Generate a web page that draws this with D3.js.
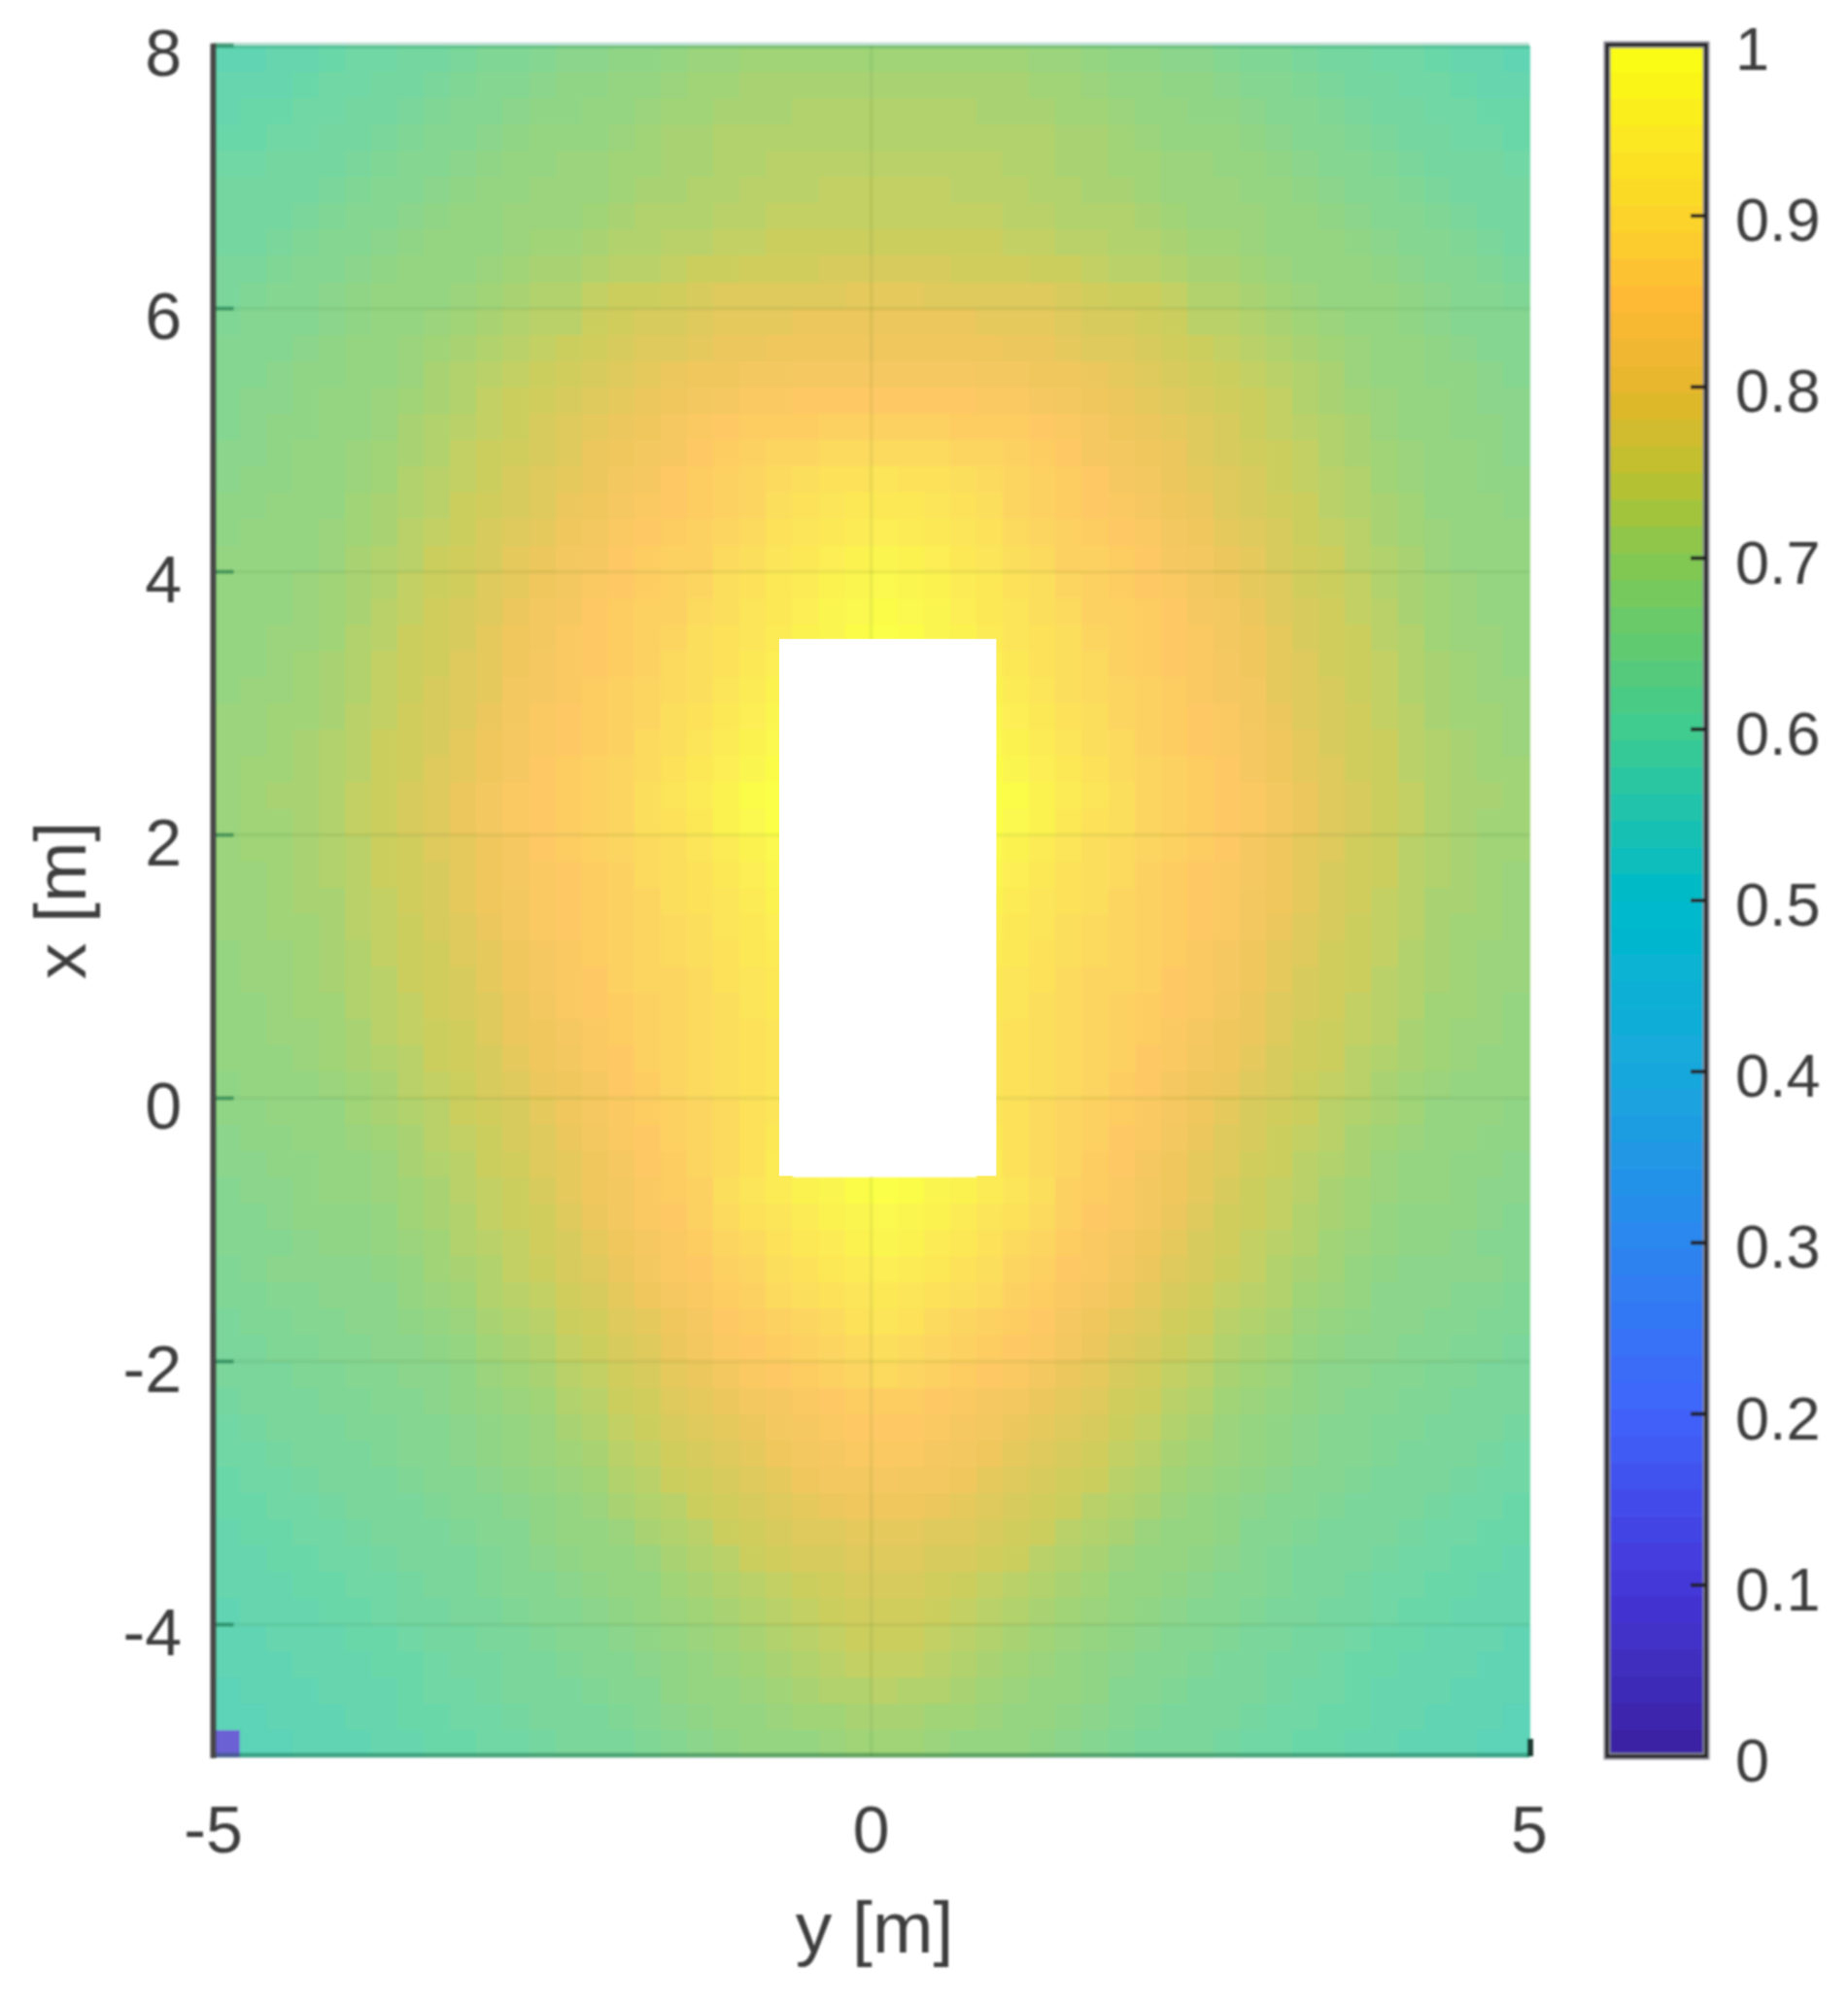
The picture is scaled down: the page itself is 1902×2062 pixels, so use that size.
<!DOCTYPE html>
<html><head><meta charset="utf-8">
<script src="https://cdn.jsdelivr.net/npm/d3@7"></script>
<style>html,body{margin:0;padding:0;background:#fff}svg{display:block}</style>
</head><body><svg id="c" width="1902" height="2062"></svg>
<script>
const xTicks=[-5,0,5];
const yTicks=[8,6,4,2,0,-2,-4];
const cbTicks=[0,0.1,0.2,0.3,0.4,0.5,0.6,0.7,0.8,0.9,1];
const cbTickLabels=["0","0.1","0.2","0.3","0.4","0.5","0.6","0.7","0.8","0.9","1"];
const parulaPos=[0,0.1,0.2,0.3,0.4,0.5,0.6,0.7,0.75,0.8,0.85,0.9,1];
const parulaCol=["#3a22a0","#4536d8","#3f63fb","#2b86ef","#18a8dc","#00bacb","#3ecb90","#84c850","#bcc02e","#e6b72c","#feb935","#fbd42b","#faff14"];
const hole={yMin:-0.70,yMax:0.95,xMin:-0.59,xMax:3.49};
const cornerCell={col:0,row:64,value:7};
const cellSize=0.2;
// value (percent) per cell, rows x=7.9 down to -4.9, columns y=-4.9 .. 0.1; the field mirrors about y=0.1
const fieldRows=[
[58,58,59,59,60,61,61,62,62,63,64,64,65,66,66,67,67,68,69,69,70,70,70,70,70,70],
[59,59,59,60,61,61,62,62,63,64,65,65,66,67,67,68,68,69,70,70,71,71,71,71,71,71],
[59,60,60,61,61,62,62,63,64,65,65,66,67,67,68,68,69,70,70,71,71,71,72,72,72,72],
[60,60,61,61,62,62,63,64,65,65,66,67,68,68,68,69,70,71,71,72,72,72,72,72,72,72],
[61,61,62,62,62,63,64,65,65,66,67,68,68,69,69,70,70,71,71,72,72,73,73,73,73,73],
[62,62,62,62,63,64,65,65,66,67,68,68,69,69,69,70,71,71,72,72,73,73,73,74,74,74],
[62,62,62,63,64,65,65,66,67,68,68,69,69,69,70,71,72,72,72,73,73,74,74,74,74,74],
[62,62,63,64,65,65,66,67,68,68,68,69,70,70,71,72,72,73,73,74,74,75,75,75,75,75],
[63,63,64,65,65,66,67,68,68,68,69,70,71,71,72,73,73,74,75,75,76,76,76,77,77,77],
[63,64,65,65,66,67,68,68,68,69,70,71,72,72,74,75,75,76,77,78,78,78,78,78,79,79],
[64,65,65,65,66,67,68,68,69,70,71,72,73,73,75,76,77,77,78,79,79,79,80,80,80,80],
[65,65,65,66,67,68,68,69,70,71,72,73,74,75,76,77,78,78,79,80,80,81,81,81,81,81],
[65,65,66,67,67,68,68,69,71,72,73,74,75,76,77,78,79,80,81,81,82,82,83,83,83,83],
[65,66,66,67,68,68,69,70,71,72,74,75,76,77,78,79,80,81,82,83,84,84,85,85,85,85],
[65,66,67,67,68,68,69,71,72,73,74,75,77,78,79,80,81,83,84,85,86,86,86,87,87,87],
[66,66,67,68,68,69,70,71,72,74,75,76,77,78,80,81,82,83,85,86,87,88,88,89,89,89],
[66,67,67,68,68,69,70,72,73,74,75,77,78,79,80,82,83,85,86,87,88,89,90,91,91,92],
[67,67,68,68,68,70,71,72,73,75,76,77,78,80,81,83,84,85,86,87,88,90,91,92,93,93],
[67,68,68,68,69,70,71,73,74,75,77,78,79,81,82,84,85,86,87,88,89,91,92,93,94,95],
[68,68,68,68,69,71,72,73,75,76,77,79,80,82,83,85,86,87,87,89,90,92,93,95,96,97],
[68,68,68,69,70,71,72,74,75,76,78,79,81,82,84,85,86,87,88,90,91,93,94,96,97,98],
[68,68,68,69,70,71,73,74,76,77,78,80,82,83,85,86,87,87,89,90,92,93,95,97,98,99],
[68,68,69,69,70,72,73,75,76,77,79,81,82,84,85,86,87,88,90,91,92,94,96,97,99,100],
[68,68,69,70,71,72,74,75,76,78,79,81,83,84,85,86,87,89,90,91,93,95],
[68,69,69,70,71,72,74,75,77,78,79,82,83,84,86,87,88,89,90,92,94,96],
[69,69,70,70,71,73,74,76,77,78,80,82,84,85,86,87,88,90,91,93,95,97],
[69,69,70,71,72,73,75,76,77,79,81,83,84,85,86,87,89,90,92,94,96,98],
[69,70,70,71,72,73,75,76,78,79,81,83,85,86,87,88,89,91,93,95,97,99],
[69,70,71,71,72,74,75,77,78,80,82,84,85,86,87,88,90,92,94,96,99,100],
[69,70,70,71,72,74,75,77,78,80,82,84,85,86,87,88,90,91,93,96,98,100],
[69,70,70,71,72,73,75,76,78,79,81,83,85,86,87,88,89,90,92,94,96,98],
[69,69,70,71,72,73,75,76,77,79,81,83,84,85,86,87,89,90,91,93,95,97],
[69,69,70,71,71,73,74,76,77,79,81,82,84,85,86,87,88,90,91,92,94,96],
[69,69,70,70,71,73,74,75,77,78,80,82,84,85,86,87,88,89,90,92,93,95],
[68,69,69,70,71,72,74,75,76,78,79,81,83,84,86,87,88,89,90,91,93,94],
[68,69,69,70,71,72,73,75,76,77,79,81,83,84,85,87,88,88,89,91,92,93],
[68,68,69,70,70,72,73,74,76,77,78,80,82,84,85,86,87,88,89,90,92,93],
[68,68,69,69,70,71,73,74,75,76,78,80,81,83,84,86,87,88,89,90,91,92],
[68,68,68,69,70,71,72,73,75,76,77,79,81,82,84,85,87,88,89,90,91,92],
[67,68,68,68,69,70,71,73,74,75,77,78,80,81,83,85,86,88,89,90,91,92],
[67,67,68,68,68,70,71,72,73,75,76,77,79,81,83,84,86,87,88,89,91,92],
[66,67,67,68,68,69,70,71,73,74,75,77,78,80,82,84,85,87,88,89,91,93],
[66,66,67,67,68,68,69,71,72,73,75,76,78,79,81,83,85,86,88,89,91,94],
[65,66,66,67,68,68,69,70,71,73,74,75,77,79,81,82,84,86,87,90,92,94,96,97,99,100],
[65,65,66,67,67,67,68,70,71,72,74,75,76,78,80,82,84,85,87,89,91,92,94,96,97,98],
[65,65,65,66,67,67,68,69,70,72,73,74,76,77,79,81,83,84,86,88,89,91,93,94,96,97],
[64,65,66,66,66,66,67,68,70,71,72,74,75,77,78,80,82,84,85,87,88,90,91,93,94,95],
[64,64,65,65,66,66,66,68,69,70,72,73,74,76,77,79,81,83,84,86,87,89,90,91,92,93],
[63,64,64,65,65,66,66,67,68,69,71,72,73,75,76,78,79,81,83,85,86,87,88,89,91,92],
[63,63,64,64,65,65,66,66,67,68,70,71,72,74,75,77,78,80,82,84,85,86,87,88,89,90],
[63,63,63,64,64,65,65,66,66,67,69,70,71,73,74,76,77,79,80,82,84,85,86,87,88,89],
[62,63,63,63,64,64,65,65,66,67,68,69,70,72,73,75,76,78,79,80,82,83,84,85,86,86],
[61,62,63,63,63,64,64,65,65,66,67,68,69,71,72,74,75,77,78,79,80,82,83,84,85,85],
[61,61,62,63,63,63,64,65,65,66,67,68,69,70,71,73,74,76,77,78,79,81,82,83,84,84],
[60,61,61,62,63,63,63,64,65,65,66,67,68,69,70,72,73,75,76,77,78,79,81,82,82,83],
[60,60,61,61,62,63,63,63,64,65,65,66,67,68,69,71,72,73,75,76,77,78,79,80,81,81],
[59,60,60,61,61,62,63,63,63,64,65,65,67,68,68,69,71,72,73,75,76,77,78,78,79,79],
[59,59,60,60,61,61,62,63,63,63,64,65,66,67,68,68,69,71,72,73,75,76,77,77,78,78],
[59,59,59,60,60,61,61,62,63,63,64,65,65,66,67,68,68,70,71,72,73,74,75,76,77,77],
[58,59,59,59,60,60,61,62,62,63,63,64,65,65,66,67,68,69,70,71,72,73,74,75,76,76],
[58,58,59,59,59,60,60,61,62,62,63,63,64,65,65,66,67,68,69,70,71,72,73,74,75,75],
[58,58,58,59,59,59,60,60,61,62,62,63,63,64,65,65,66,67,68,69,70,71,72,73,74,74],
[57,58,58,58,59,59,59,60,61,61,62,63,63,63,64,65,65,67,68,68,69,70,71,72,72,73],
[57,57,58,58,58,59,59,60,60,61,61,62,63,63,63,64,65,66,67,68,68,69,70,70,71,71],
[57,57,57,58,58,58,59,59,60,60,61,61,62,63,63,63,64,65,66,67,68,68,68,69,70,70]
];

const svg=d3.select("#c");
const font="'Liberation Sans',Arial,sans-serif";
const textCol="#3c3c3c";
const defs=svg.append("defs");
defs.append("filter").attr("id","soft").attr("x","-5%").attr("y","-5%").attr("width","110%").attr("height","110%")
  .append("feGaussianBlur").attr("stdDeviation",1.1);
defs.append("filter").attr("id","softF").attr("filterUnits","userSpaceOnUse").attr("x",190).attr("y",20).attr("width",1420).attr("height",1820)
  .append("feGaussianBlur").attr("stdDeviation",1);

const xS=d3.scaleLinear().domain([-5,5]).range([219.5,1574]);
const yS=d3.scaleLinear().domain([-5,8]).range([1808,46.7]);
const cbS=d3.scaleLinear().domain([0,1]).range([1808,46]);
const colorS=d3.scaleLinear().domain(parulaPos).range(parulaCol).interpolate(d3.interpolateRgb);

// field
const cells=[];
fieldRows.forEach((row,r)=>{
  for(let c=0;c<50;c++){
    const idx=c<=25?c:50-c;
    let v=row[idx];
    if(c===cornerCell.col&&r===cornerCell.row)v=cornerCell.value;
    if(v===undefined)continue;
    cells.push({y0:-5+c*cellSize,x1:8-r*cellSize,v:v/100});
  }
});
const gF=svg.append("g").attr("filter","url(#softF)");
gF.append("g").attr("opacity",0.77).selectAll("rect").data(cells).join("rect")
  .attr("x",d=>xS(d.y0)).attr("y",d=>yS(d.x1))
  .attr("width",xS(cellSize)-xS(0)+0.6).attr("height",yS(0)-yS(cellSize)+0.6)
  .attr("fill",d=>colorS(d.v)).attr("shape-rendering","crispEdges");
// gridlines seen through the field
gF.append("g").selectAll("line").data(yTicks.slice(1)).join("line")
  .attr("x1",xS(-5)).attr("x2",xS(5)).attr("y1",d=>yS(d)).attr("y2",d=>yS(d))
  .attr("stroke","#2a5a20").attr("stroke-opacity",0.07).attr("stroke-width",4);
gF.append("line").attr("x1",xS(0)).attr("x2",xS(0)).attr("y1",yS(8)).attr("y2",yS(-5))
  .attr("stroke","#2a5a20").attr("stroke-opacity",0.07).attr("stroke-width",4);
// edges
gF.append("line").attr("x1",xS(-5)).attr("x2",xS(5)).attr("y1",yS(8)).attr("y2",yS(8))
  .attr("stroke","#0a8a5a").attr("stroke-opacity",0.28).attr("stroke-width",6);
gF.append("line").attr("x1",xS(-5)).attr("x2",xS(5)).attr("y1",yS(-5)-1).attr("y2",yS(-5)-1)
  .attr("stroke","#0a5a3a").attr("stroke-opacity",0.4).attr("stroke-width",5);
// inner ticks on the left axis
gF.append("g").selectAll("line").data(yTicks).join("line")
  .attr("x1",xS(-5)).attr("x2",xS(-5)+21).attr("y1",d=>yS(d)).attr("y2",d=>yS(d))
  .attr("stroke","#0a6a40").attr("stroke-opacity",0.55).attr("stroke-width",4);
gF.append("line").attr("x1",xS(-5)).attr("x2",xS(-5)).attr("y1",yS(8)-2).attr("y2",yS(-5)+2)
  .attr("stroke","#474747").attr("stroke-width",6);
gF.append("line").attr("x1",xS(5)+1).attr("x2",xS(5)+1).attr("y1",yS(-5)-18).attr("y2",yS(-5))
  .attr("stroke","#1f3a30").attr("stroke-width",6);

// hole
svg.append("rect").attr("x",xS(hole.yMin)).attr("y",yS(hole.xMax))
  .attr("width",xS(hole.yMax)-xS(hole.yMin)).attr("height",yS(hole.xMin)-yS(hole.xMax)).attr("fill","#fff");

// axis tick labels
const gT=svg.append("g").attr("filter","url(#soft)").attr("font-family",font).attr("fill",textCol);
gT.selectAll(".yl").data(yTicks).join("text").attr("class","yl")
  .attr("x",187).attr("y",d=>yS(d)+31).attr("text-anchor","end").attr("font-size",68).text(d=>d);
gT.selectAll(".xl").data(xTicks).join("text").attr("class","xl")
  .attr("x",d=>xS(d)).attr("y",1907).attr("text-anchor","middle").attr("font-size",68).text(d=>d);
gT.append("text").attr("x",900).attr("y",2010).attr("text-anchor","middle").attr("font-size",75).text("y [m]");
gT.append("text").attr("transform","translate(88,927) rotate(-90)").attr("text-anchor","middle").attr("font-size",75).text("x [m]");

// colorbar
const levels=d3.range(64);
const gC=svg.append("g").attr("filter","url(#soft)");
gC.selectAll("rect").data(levels).join("rect")
  .attr("x",1654).attr("width",102)
  .attr("y",d=>cbS((d+1)/64)).attr("height",d=>cbS(d/64)-cbS((d+1)/64)+0.6)
  .attr("fill",d=>colorS((d+0.5)/64));
gC.append("rect").attr("x",1654).attr("y",cbS(1)).attr("width",102).attr("height",cbS(0)-cbS(1))
  .attr("fill","none").attr("stroke","#8a8a96").attr("stroke-width",7);
gC.append("rect").attr("x",1654).attr("y",cbS(1)).attr("width",102).attr("height",cbS(0)-cbS(1))
  .attr("fill","none").attr("stroke","#222").attr("stroke-width",3.5);
gC.selectAll("line").data(cbTicks.slice(1,-1)).join("line")
  .attr("x1",1740).attr("x2",1756).attr("y1",d=>cbS(d)).attr("y2",d=>cbS(d))
  .attr("stroke","#222").attr("stroke-width",4);
gT.selectAll(".cl").data(cbTicks).join("text").attr("class","cl")
  .attr("x",1786).attr("y",d=>cbS(d)+26).attr("font-size",63)
  .text((d,i)=>cbTickLabels[i]);
</script></body></html>
